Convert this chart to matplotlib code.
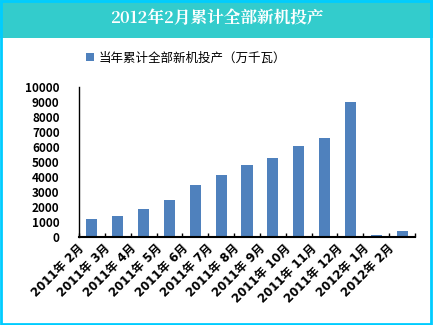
import matplotlib.pyplot as plt
from matplotlib.patches import Rectangle

plt.rcParams['font.family'] = ['Noto Sans CJK SC', 'DejaVu Sans']

# data
months = ['2011年 2月', '2011年 3月', '2011年 4月', '2011年 5月', '2011年 6月',
          '2011年 7月', '2011年 8月', '2011年 9月', '2011年 10月', '2011年 11月',
          '2011年 12月', '2012年 1月', '2012年 2月']
capacity = [1210, 1420, 1880, 2480, 3470, 4140, 4800, 5270, 6060, 6590, 8990, 150, 420]
yticks = list(range(0, 10001, 1000))

fig = plt.figure(figsize=(4.33, 3.25), dpi=100)
fig.patch.set_facecolor('white')

# title band and frame
fig.patches.append(Rectangle((0, 1 - 38 / 325), 1, 38 / 325, transform=fig.transFigure,
                             facecolor='#33CCCC', edgecolor='none', zorder=0))
fig.patches.append(Rectangle((0.002, 0.004), 0.994, 0.993, transform=fig.transFigure,
                             facecolor='none', edgecolor='#00CCFF', linewidth=2, zorder=5))
fig.text(0.5, 1 - 19 / 325, '2012年2月累计全部新机投产', ha='center', va='center',
         color='white', fontsize=12, fontweight='bold',
         family=['Noto Serif CJK SC', 'Noto Sans CJK SC', 'DejaVu Sans'])

ax = fig.add_axes([79 / 433, 1 - 237.3 / 325, 336 / 433, 150.6 / 325])
x = list(range(len(months)))
bars = ax.bar(x, capacity, width=0.43, color='#4F81BD')

ax.set_xlim(-0.5, len(months) - 0.5)
ax.set_ylim(0, 10000)
ax.set_yticks(yticks)
ax.set_yticklabels([str(v) for v in yticks], fontsize=8.5, fontweight='bold')
ax.tick_params(axis='y', length=0, pad=14)

ax.set_xticks([i + 0.5 for i in range(-1, len(months))])
ax.set_xticklabels([])
ax.tick_params(axis='x', direction='in', length=3, width=1)
for i, m in enumerate(months):
    ax.text(i - 0.55, -300, m, rotation=45, rotation_mode='anchor', ha='right', va='top',
            fontsize=8.5, fontweight='bold', family=['DejaVu Sans', 'Noto Sans CJK SC'])

for side in ['top', 'right']:
    ax.spines[side].set_visible(False)
ax.spines['left'].set_linewidth(1)
ax.spines['bottom'].set_linewidth(1.5)

fig.legend(handles=[bars], labels=['当年累计全部新机投产（万千瓦）'], loc='center left',
           bbox_to_anchor=(75 / 433, 1 - 58 / 325), frameon=False, fontsize=9,
           handlelength=0.6, handleheight=0.6, handletextpad=0.4)

plt.savefig('out.png', dpi=100)
